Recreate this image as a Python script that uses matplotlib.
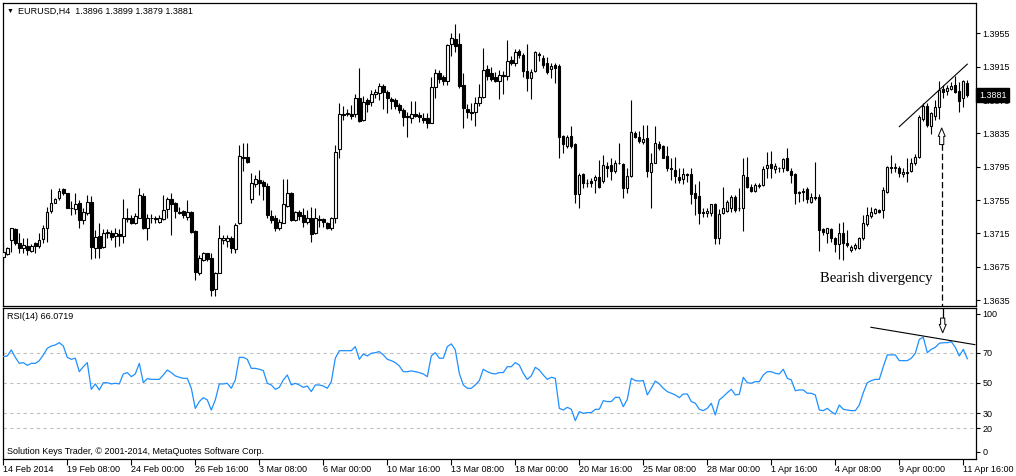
import numpy as np
import matplotlib
matplotlib.use("Agg")
import matplotlib.pyplot as plt
import matplotlib.transforms as mtrans

plt.rcParams['font.family'] = ['Liberation Sans', 'DejaVu Sans']

"""EURUSD H4 bars, read off the chart (one entry per 4h bar)"""
opens = [1.3687, 1.3690, 1.3707, 1.3720, 1.3703, 1.3698, 1.3700, 1.3694, 1.3703, 1.3700,
         1.3708, 1.3721, 1.3742, 1.3752, 1.3757, 1.3768, 1.3763, 1.3746, 1.3744, 1.3751,
         1.3731, 1.3739, 1.3753, 1.3698, 1.3712, 1.3699, 1.3717, 1.3715, 1.3712, 1.3714,
         1.3712, 1.3732, 1.3733, 1.3727, 1.3734, 1.3760, 1.3722, 1.3734, 1.3733, 1.3729,
         1.3732, 1.3744, 1.3756, 1.3751, 1.3741, 1.3742, 1.3735, 1.3741, 1.3718, 1.3668,
         1.3683, 1.3691, 1.3685, 1.3648, 1.3668, 1.3707, 1.3706, 1.3709, 1.3696, 1.3727,
         1.3807, 1.3807, 1.3756, 1.3774, 1.3779, 1.3777, 1.3772, 1.3736, 1.3733, 1.3721,
         1.3728, 1.3748, 1.3763, 1.3731, 1.3741, 1.3737, 1.3729, 1.3733, 1.3715, 1.3732,
         1.3732, 1.3727, 1.3722, 1.3733, 1.3816, 1.3858, 1.3858, 1.3858, 1.3858, 1.3878,
         1.3851, 1.3875, 1.3873, 1.3882, 1.3884, 1.3892, 1.3884, 1.3876, 1.3875, 1.3869,
         1.3863, 1.3856, 1.3854, 1.3858, 1.3857, 1.3854, 1.3853, 1.3848, 1.3891, 1.3907,
         1.3902, 1.3898, 1.3942, 1.3948, 1.3942, 1.3893, 1.3864, 1.3861, 1.3861, 1.3871,
         1.3879, 1.3912, 1.3908, 1.3902, 1.3898, 1.3905, 1.3904, 1.3923, 1.3919, 1.3934,
         1.3929, 1.3910, 1.3901, 1.3910, 1.3930, 1.3925, 1.3919, 1.3912, 1.3917, 1.3916,
         1.3832, 1.3820, 1.3832, 1.3822, 1.3762, 1.3786, 1.3776, 1.3778, 1.3779, 1.3783,
         1.3778, 1.3796, 1.3797, 1.3790, 1.3800, 1.3798, 1.3769, 1.3784, 1.3835, 1.3831,
         1.3825, 1.3829, 1.3789, 1.3800, 1.3822, 1.3820, 1.3808, 1.3794, 1.3791, 1.3783,
         1.3780, 1.3786, 1.3786, 1.3764, 1.3760, 1.3741, 1.3739, 1.3740, 1.3750, 1.3709,
         1.3739, 1.3742, 1.3745, 1.3759, 1.3745, 1.3745, 1.3783, 1.3771, 1.3766, 1.3773,
         1.3773, 1.3793, 1.3798, 1.3792, 1.3794, 1.3794, 1.3805, 1.3790, 1.3786, 1.3764,
         1.3766, 1.3768, 1.3753, 1.3759, 1.3759, 1.3720, 1.3715, 1.3720, 1.3709, 1.3702,
         1.3716, 1.3704, 1.3695, 1.3697, 1.3697, 1.3709, 1.3726, 1.3736, 1.3739, 1.3743,
         1.3743, 1.3765, 1.3795, 1.3794, 1.3793, 1.3786, 1.3788, 1.3790, 1.3799, 1.3807,
         1.3852, 1.3868, 1.3844, 1.3856, 1.3867, 1.3888, 1.3886, 1.3888, 1.3893, 1.3886,
         1.3877, 1.3896]
highs = [1.3703, 1.3699, 1.3722, 1.3722, 1.3716, 1.3709, 1.3709, 1.3702, 1.3705, 1.3715,
         1.3725, 1.3747, 1.3768, 1.3758, 1.3770, 1.3769, 1.3764, 1.3754, 1.3763, 1.3755,
         1.3745, 1.3761, 1.3760, 1.3719, 1.3727, 1.3720, 1.3720, 1.3719, 1.3721, 1.3720,
         1.3756, 1.3745, 1.3737, 1.3740, 1.3769, 1.3764, 1.3738, 1.3738, 1.3736, 1.3737,
         1.3761, 1.3759, 1.3764, 1.3753, 1.3747, 1.3743, 1.3755, 1.3742, 1.3719, 1.3689,
         1.3693, 1.3692, 1.3691, 1.3669, 1.3725, 1.3713, 1.3713, 1.3712, 1.3727, 1.3821,
         1.3823, 1.3823, 1.3787, 1.3785, 1.3791, 1.3779, 1.3775, 1.3743, 1.3737, 1.3732,
         1.3780, 1.3780, 1.3765, 1.3742, 1.3743, 1.3745, 1.3743, 1.3747, 1.3745, 1.3737,
         1.3733, 1.3729, 1.3735, 1.3821, 1.3871, 1.3868, 1.3864, 1.3869, 1.3882, 1.3914,
         1.3880, 1.3877, 1.3887, 1.3888, 1.3896, 1.3894, 1.3887, 1.3879, 1.3877, 1.3872,
         1.3865, 1.3861, 1.3874, 1.3874, 1.3861, 1.3860, 1.3859, 1.3903, 1.3912, 1.3911,
         1.3905, 1.3942, 1.3955, 1.3966, 1.3955, 1.3908, 1.3870, 1.3871, 1.3879, 1.3894,
         1.3937, 1.3917, 1.3915, 1.3909, 1.3911, 1.3910, 1.3947, 1.3928, 1.3936, 1.3936,
         1.3931, 1.3942, 1.3912, 1.3934, 1.3933, 1.3929, 1.3927, 1.3920, 1.3919, 1.3918,
         1.3833, 1.3833, 1.3844, 1.3823, 1.3788, 1.3787, 1.3780, 1.3782, 1.3785, 1.3803,
         1.3809, 1.3801, 1.3805, 1.3803, 1.3824, 1.3800, 1.3794, 1.3875, 1.3838, 1.3838,
         1.3845, 1.3845, 1.3811, 1.3844, 1.3826, 1.3821, 1.3820, 1.3806, 1.3807, 1.3793,
         1.3794, 1.3788, 1.3794, 1.3774, 1.3778, 1.3745, 1.3745, 1.3750, 1.3751, 1.3744,
         1.3771, 1.3755, 1.3761, 1.3761, 1.3769, 1.3805, 1.3807, 1.3774, 1.3775, 1.3776,
         1.3796, 1.3813, 1.3814, 1.3800, 1.3795, 1.3806, 1.3818, 1.3793, 1.3788, 1.3766,
         1.3770, 1.3771, 1.3764, 1.3801, 1.3762, 1.3721, 1.3722, 1.3721, 1.3711, 1.3728,
         1.3729, 1.3719, 1.3701, 1.3703, 1.3711, 1.3737, 1.3747, 1.3747, 1.3745, 1.3744,
         1.3771, 1.3796, 1.3809, 1.3800, 1.3796, 1.3793, 1.3806, 1.3806, 1.3810, 1.3857,
         1.3871, 1.3871, 1.3861, 1.3875, 1.3898, 1.3893, 1.3893, 1.3897, 1.3904, 1.3897,
         1.3899, 1.3899]
lows = [1.3679, 1.3689, 1.3693, 1.3701, 1.3691, 1.3691, 1.3689, 1.3693, 1.3691, 1.3698,
        1.3704, 1.3705, 1.3740, 1.3751, 1.3755, 1.3761, 1.3745, 1.3737, 1.3738, 1.3722,
        1.3726, 1.3737, 1.3684, 1.3686, 1.3685, 1.3698, 1.3710, 1.3707, 1.3699, 1.3700,
        1.3704, 1.3729, 1.3726, 1.3726, 1.3733, 1.3720, 1.3707, 1.3728, 1.3727, 1.3727,
        1.3731, 1.3733, 1.3713, 1.3734, 1.3738, 1.3733, 1.3731, 1.3715, 1.3659, 1.3665,
        1.3682, 1.3682, 1.3640, 1.3640, 1.3667, 1.3702, 1.3699, 1.3691, 1.3691, 1.3726,
        1.3790, 1.3800, 1.3752, 1.3771, 1.3761, 1.3755, 1.3734, 1.3728, 1.3718, 1.3719,
        1.3727, 1.3747, 1.3730, 1.3730, 1.3731, 1.3723, 1.3726, 1.3705, 1.3714, 1.3723,
        1.3723, 1.3720, 1.3719, 1.3727, 1.3806, 1.3851, 1.3856, 1.3852, 1.3855, 1.3849,
        1.3850, 1.3861, 1.3868, 1.3878, 1.3875, 1.3864, 1.3860, 1.3864, 1.3864, 1.3860,
        1.3844, 1.3831, 1.3847, 1.3855, 1.3849, 1.3847, 1.3841, 1.3847, 1.3878, 1.3896,
        1.3893, 1.3893, 1.3928, 1.3933, 1.3890, 1.3842, 1.3854, 1.3851, 1.3844, 1.3868,
        1.3878, 1.3899, 1.3898, 1.3897, 1.3876, 1.3882, 1.3899, 1.3917, 1.3916, 1.3926,
        1.3903, 1.3886, 1.3876, 1.3909, 1.3922, 1.3913, 1.3906, 1.3902, 1.3896, 1.3806,
        1.3811, 1.3818, 1.3818, 1.3752, 1.3745, 1.3769, 1.3771, 1.3771, 1.3763, 1.3769,
        1.3776, 1.3783, 1.3779, 1.3788, 1.3798, 1.3757, 1.3764, 1.3783, 1.3829, 1.3823,
        1.3822, 1.3783, 1.3745, 1.3799, 1.3815, 1.3805, 1.3790, 1.3779, 1.3776, 1.3776,
        1.3774, 1.3777, 1.3750, 1.3737, 1.3726, 1.3735, 1.3735, 1.3736, 1.3702, 1.3702,
        1.3738, 1.3741, 1.3741, 1.3741, 1.3742, 1.3718, 1.3769, 1.3765, 1.3765, 1.3769,
        1.3772, 1.3781, 1.3782, 1.3787, 1.3789, 1.3789, 1.3790, 1.3775, 1.3750, 1.3753,
        1.3754, 1.3752, 1.3752, 1.3755, 1.3694, 1.3713, 1.3704, 1.3705, 1.3693, 1.3684,
        1.3683, 1.3699, 1.3693, 1.3695, 1.3696, 1.3707, 1.3724, 1.3733, 1.3738, 1.3739,
        1.3734, 1.3764, 1.3787, 1.3789, 1.3783, 1.3783, 1.3777, 1.3789, 1.3797, 1.3806,
        1.3850, 1.3843, 1.3834, 1.3851, 1.3852, 1.3878, 1.3881, 1.3887, 1.3883, 1.3861,
        1.3867, 1.3879]
closes = [1.3693, 1.3697, 1.3721, 1.3703, 1.3697, 1.3701, 1.3695, 1.3700, 1.3700, 1.3707,
          1.3722, 1.3741, 1.3752, 1.3756, 1.3766, 1.3763, 1.3746, 1.3745, 1.3750, 1.3731,
          1.3740, 1.3753, 1.3699, 1.3711, 1.3697, 1.3715, 1.3715, 1.3711, 1.3715, 1.3712,
          1.3733, 1.3734, 1.3728, 1.3736, 1.3761, 1.3721, 1.3734, 1.3733, 1.3732, 1.3733,
          1.3743, 1.3756, 1.3750, 1.3742, 1.3740, 1.3737, 1.3740, 1.3717, 1.3669, 1.3685,
          1.3691, 1.3684, 1.3647, 1.3667, 1.3709, 1.3709, 1.3710, 1.3697, 1.3725, 1.3808,
          1.3806, 1.3801, 1.3776, 1.3780, 1.3776, 1.3772, 1.3737, 1.3731, 1.3722, 1.3729,
          1.3750, 1.3763, 1.3731, 1.3741, 1.3736, 1.3729, 1.3733, 1.3714, 1.3733, 1.3731,
          1.3729, 1.3721, 1.3733, 1.3813, 1.3858, 1.3857, 1.3859, 1.3856, 1.3877, 1.3850,
          1.3873, 1.3870, 1.3882, 1.3884, 1.3892, 1.3885, 1.3877, 1.3874, 1.3868, 1.3863,
          1.3855, 1.3855, 1.3858, 1.3856, 1.3855, 1.3851, 1.3848, 1.3891, 1.3908, 1.3900,
          1.3898, 1.3941, 1.3950, 1.3940, 1.3892, 1.3866, 1.3861, 1.3860, 1.3872, 1.3879,
          1.3911, 1.3904, 1.3900, 1.3898, 1.3905, 1.3904, 1.3922, 1.3920, 1.3932, 1.3929,
          1.3910, 1.3901, 1.3909, 1.3933, 1.3929, 1.3917, 1.3909, 1.3916, 1.3914, 1.3831,
          1.3822, 1.3830, 1.3820, 1.3762, 1.3785, 1.3775, 1.3775, 1.3776, 1.3783, 1.3771,
          1.3797, 1.3794, 1.3790, 1.3800, 1.3799, 1.3770, 1.3784, 1.3837, 1.3831, 1.3826,
          1.3828, 1.3790, 1.3799, 1.3824, 1.3818, 1.3806, 1.3794, 1.3792, 1.3784, 1.3779,
          1.3786, 1.3785, 1.3762, 1.3758, 1.3740, 1.3740, 1.3742, 1.3750, 1.3710, 1.3738,
          1.3745, 1.3753, 1.3759, 1.3743, 1.3746, 1.3785, 1.3771, 1.3766, 1.3773, 1.3772,
          1.3792, 1.3797, 1.3793, 1.3796, 1.3793, 1.3804, 1.3791, 1.3785, 1.3763, 1.3765,
          1.3765, 1.3756, 1.3759, 1.3758, 1.3719, 1.3717, 1.3721, 1.3710, 1.3702, 1.3715,
          1.3703, 1.3701, 1.3699, 1.3701, 1.3709, 1.3727, 1.3737, 1.3740, 1.3744, 1.3741,
          1.3767, 1.3795, 1.3794, 1.3795, 1.3787, 1.3789, 1.3789, 1.3800, 1.3807, 1.3854,
          1.3868, 1.3845, 1.3859, 1.3866, 1.3887, 1.3885, 1.3890, 1.3892, 1.3885, 1.3874,
          1.3898, 1.3881]

"""RSI(14) values, read off the lower panel"""
rsi = [67.5, 67.9, 71.9, 67.0, 63.0, 63.5, 61.7, 63.0, 63.0, 64.8,
       68.6, 73.0, 74.5, 75.2, 76.7, 74.5, 67.0, 65.7, 66.4, 57.5,
       60.8, 63.5, 45.8, 49.4, 45.4, 50.2, 50.2, 49.4, 49.8, 49.4,
       56.0, 56.9, 54.2, 56.0, 63.0, 50.2, 52.9, 52.4, 52.4, 52.4,
       55.3, 58.6, 56.9, 54.7, 53.8, 53.1, 53.1, 46.5, 33.2, 37.7,
       40.3, 38.8, 32.1, 38.8, 49.4, 49.4, 49.8, 46.5, 52.0, 67.0,
       67.0, 65.7, 59.7, 59.7, 59.1, 58.2, 49.8, 48.7, 45.8, 47.1,
       52.0, 55.3, 48.7, 49.8, 48.7, 47.1, 48.0, 44.3, 48.7, 48.7,
       48.0, 46.5, 50.9, 66.4, 71.4, 71.4, 71.4, 71.4, 74.1, 65.7,
       69.2, 67.9, 69.7, 70.1, 70.8, 68.6, 65.7, 64.8, 63.5, 61.3,
       57.5, 57.5, 58.0, 57.5, 56.9, 56.0, 54.2, 67.9, 70.1, 66.4,
       66.4, 74.1, 75.9, 71.9, 56.4, 48.7, 46.5, 46.5, 48.7, 51.6,
       59.1, 57.5, 56.4, 56.0, 56.9, 56.9, 60.8, 60.8, 63.5, 61.9,
       56.4, 52.4, 54.7, 60.4, 58.6, 55.3, 52.4, 53.8, 53.1, 33.2,
       32.1, 33.9, 32.6, 25.1, 31.0, 29.9, 30.4, 30.4, 32.6, 32.6,
       38.3, 37.7, 37.7, 40.5, 40.5, 34.3, 39.2, 53.1, 51.6, 51.3,
       51.6, 42.1, 46.5, 51.3, 49.4, 46.5, 44.3, 43.2, 42.1, 40.3,
       42.7, 42.7, 37.7, 36.6, 32.6, 31.7, 33.2, 36.6, 28.8, 38.8,
       41.0, 43.6, 45.8, 42.1, 42.5, 53.8, 50.2, 49.8, 50.9, 50.9,
       55.3, 57.5, 57.5, 56.4, 56.0, 59.1, 53.1, 52.0, 44.9, 45.4,
       45.4, 43.2, 43.2, 42.1, 32.1, 31.7, 33.2, 31.0, 29.3, 35.4,
       32.6, 32.1, 31.7, 31.7, 35.4, 43.6, 50.2, 51.6, 52.4, 52.4,
       60.8, 68.6, 68.6, 68.6, 64.8, 64.8, 64.8, 66.4, 69.7, 78.9,
       80.3, 70.1, 72.3, 73.6, 76.3, 76.7, 76.7, 77.4, 73.6, 67.9,
       72.3, 66.07]

date_labels = ["14 Feb 2014", "19 Feb 08:00", "24 Feb 00:00", "26 Feb 16:00",
               "3 Mar 08:00", "6 Mar 00:00", "10 Mar 16:00", "13 Mar 08:00",
               "18 Mar 00:00", "20 Mar 16:00", "25 Mar 08:00", "28 Mar 00:00",
               "1 Apr 16:00", "4 Apr 08:00", "9 Apr 00:00", "11 Apr 16:00"]
price_ticks = [1.3635, 1.3675, 1.3715, 1.3755, 1.3795, 1.3835, 1.3875, 1.3915, 1.3955]
rsi_levels = [20, 30, 50, 70]
rsi_tick_labels = ["0", "20", "30", "50", "70", "100"]
last_price = 1.3881

W, H = 1016, 476
fig = plt.figure(figsize=(W / 100, H / 100), dpi=100)
fig.patch.set_facecolor('white')
ax = fig.add_axes([2.5 / W, 1 - 305.5 / H, 973 / W, 303 / H])
ax2 = fig.add_axes([2.5 / W, 1 - 458.5 / H, 973 / W, 151 / H])

o = np.array(opens)
h = np.array(highs)
l = np.array(lows)
c = np.array(closes)
x = np.arange(len(c))

"""candles: wicks first, bodies on top"""
ax.vlines(x, l, h, color='black', lw=0.8, zorder=2)
up = c >= o
body_lo = np.minimum(o, c)
body_h = np.abs(c - o)
ax.bar(x[up], body_h[up], bottom=body_lo[up], width=0.6, facecolor='white',
       edgecolor='black', lw=0.8, zorder=3)
ax.bar(x[~up], body_h[~up], bottom=body_lo[~up], width=0.6, facecolor='black',
       edgecolor='black', lw=0.8, zorder=3)

ax.set_xlim(-0.2, 243.05)
ax.set_ylim(1.36284, 1.39920)
ax.yaxis.tick_right()
ax.set_yticks(price_ticks)
ax.set_yticklabels(["%.4f" % p for p in price_ticks])
ax.tick_params(axis='y', direction='out', length=3, width=0.8, labelsize=6.5, pad=2)
ax.set_xticks([])
for s in ax.spines.values():
    s.set_linewidth(0.9)

"""trend line on price, divergence arrow and note"""
ax.plot([224, 241], [1.3843, 1.3918], color='black', lw=0.8, zorder=4)
ax.plot([234.6, 234.6], [1.3822, 1.3600], color='black', lw=0.9,
        ls=(0, (5, 2.5)), zorder=4)
ax.annotate('', xy=(234.6, 1.38414), xytext=(234.6, 1.38215),
            arrowprops=dict(arrowstyle='simple,head_length=0.6,head_width=0.5,tail_width=0.3',
                            fc='white', ec='black', lw=0.7, mutation_scale=10,
                            shrinkA=0, shrinkB=0), zorder=5)
ax.text(204.2, 1.36614, "Bearish divergency", family=['Liberation Serif', 'DejaVu Serif'],
        fontsize=10.5, va='center', ha='left')

trans = mtrans.blended_transform_factory(ax.transAxes, ax.transData)
ax.text(1.0035, last_price, "%.4f" % last_price, transform=trans, color='white',
        fontsize=6.5, va='center', ha='left', clip_on=False, zorder=10,
        bbox=dict(boxstyle='square,pad=0.3', fc='black', ec='black'))

"""RSI panel"""
ax2.plot(x, rsi, color='#1E90FF', lw=0.9, zorder=3)
for lv in rsi_levels:
    ax2.axhline(lv, color='#c0c0c0', lw=0.8, ls=(0, (3, 3)), zorder=1)
ax2.plot([216.9, 242.9], [86.9, 75.4], color='black', lw=0.8, zorder=4)
ax2.plot([234.85, 234.85], [100, 93.0], color='black', lw=0.9, zorder=4)
ax2.annotate('', xy=(234.85, 83.3), xytext=(234.85, 93.0),
             arrowprops=dict(arrowstyle='simple,head_length=0.6,head_width=0.5,tail_width=0.3',
                             fc='white', ec='black', lw=0.7, mutation_scale=10,
                             shrinkA=0, shrinkB=0), zorder=5)
ax2.set_xlim(-0.2, 243.05)
ax2.set_ylim(0, 100)
ax2.yaxis.tick_right()
ax2.set_yticks([4.5, 20, 30, 50, 70, 95.7])
ax2.set_yticklabels(rsi_tick_labels)
ax2.tick_params(axis='y', direction='out', length=3, width=0.8, labelsize=6.5, pad=2)
ax2.set_xticks(np.arange(0, 16 * len(date_labels), 16))
ax2.set_xticklabels(date_labels)
ax2.tick_params(axis='x', direction='out', length=4, width=0.8, labelsize=6.5, pad=1)
for lbl in ax2.get_xticklabels():
    lbl.set_ha('left')
for s in ax2.spines.values():
    s.set_linewidth(0.9)

"""header texts"""
fig.text(6.5 / W, 1 - 11 / H, "\u25bc", fontsize=5, va='center', ha='left')
fig.text(18 / W, 1 - 11 / H, "EURUSD,H4  1.3896 1.3899 1.3879 1.3881",
         fontsize=6.5, va='center', ha='left')
fig.text(7 / W, 1 - 316.5 / H, "RSI(14) 66.0719", fontsize=6.5, va='center', ha='left')
fig.text(7 / W, 1 - 451 / H, "Solution Keys Trader, \u00a9 2001-2014, MetaQuotes Software Corp.",
         fontsize=6.5, va='center', ha='left')

fig.savefig("out.png", dpi=100, facecolor='white')
